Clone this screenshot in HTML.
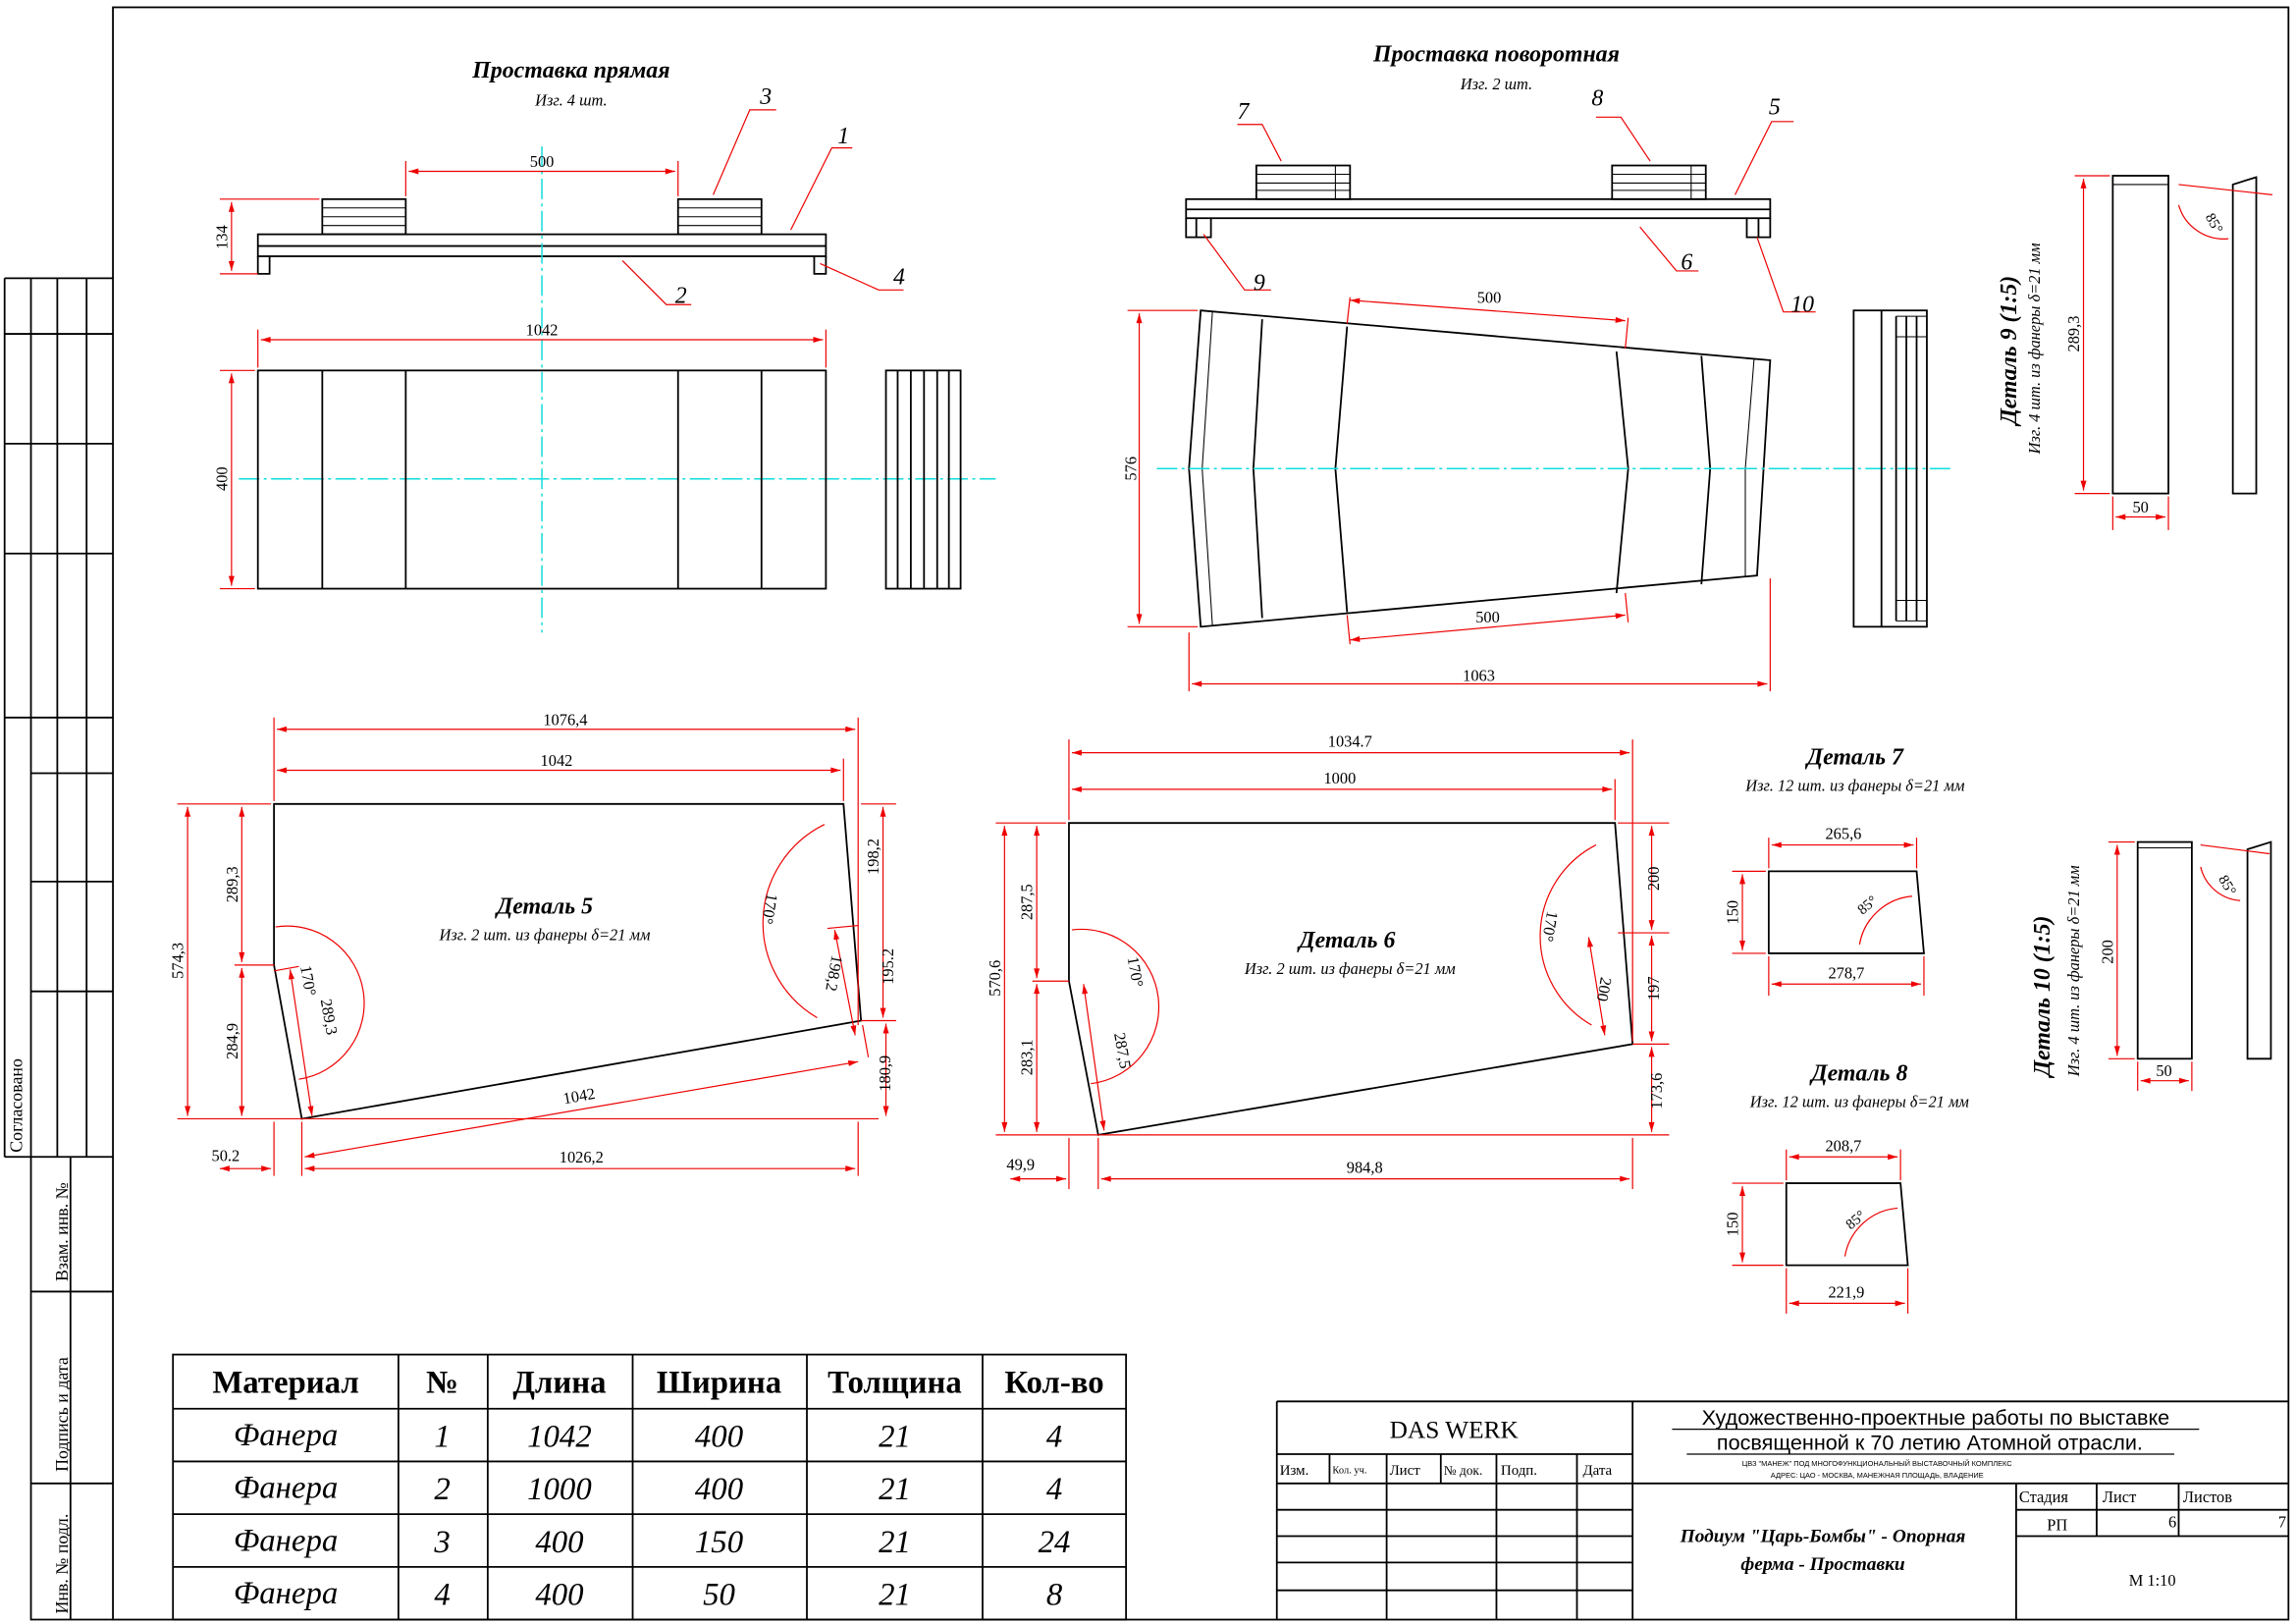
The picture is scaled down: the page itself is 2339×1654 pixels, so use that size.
<!DOCTYPE html>
<html><head><meta charset="utf-8"><style>
html,body{margin:0;padding:0;background:#fff}
svg{display:block}
text{font-family:"Liberation Serif",serif;fill:#000}
.t{font-size:11px}
.h{font-size:16px;font-weight:bold;font-style:italic}
.s{font-size:11px;font-style:italic}
.k{stroke:#000;fill:none;stroke-width:1.2}
.kt{stroke:#000;fill:none;stroke-width:0.7}
.r{stroke:#e00;fill:none;stroke-width:0.8}
.d path{stroke:#e00;fill:none;stroke-width:0.8;marker-start:url(#ms);marker-end:url(#me)}
.c{stroke:#1dd;fill:none;stroke-width:1;stroke-dasharray:14 3 2 3}
</style></head><body>
<svg width="2339" height="1654" viewBox="0 0 1568 1109" xmlns="http://www.w3.org/2000/svg">
<defs>
<marker id="me" viewBox="0 0 10 6" refX="10" refY="3" markerWidth="8" markerHeight="4" orient="auto" markerUnits="userSpaceOnUse"><path d="M10,3 L0,0 L0,6z" fill="#e00"/></marker>
<marker id="ms" viewBox="0 0 10 6" refX="0" refY="3" markerWidth="8" markerHeight="4" orient="auto" markerUnits="userSpaceOnUse"><path d="M0,3 L10,0 L10,6z" fill="#e00"/></marker>
</defs>
<!-- frame -->
<rect x="77" y="5" width="1486" height="1101" class="k"/>
<g class="k">
<path d="M3,190H77M3,190V790M21,190V790M39,190V790M59,190V790M3,228H77M3,303H77M3,378H77M3,490H77M21,528H77M21,602H77M21,677H77M3,790H77"/>
<path d="M21,790V1106H77M48,790V1106M21,882H77M21,1013H77"/>
</g>
<g class="t" font-size="11">
<text transform="translate(15,787) rotate(-90)" font-size="12">Согласовано</text>
<text transform="translate(46,875) rotate(-90)" font-size="12">Взам. инв. №</text>
<text transform="translate(46,1005) rotate(-90)" font-size="12">Подпись и дата</text>
<text transform="translate(46,1102) rotate(-90)" font-size="12">Инв. № подл.</text>
</g>
<!-- title block -->
<g class="k">
<path d="M872,957H1563M872,957V1106M1115,957V1106M872,993H1115M872,1013H1563M872,1031H1115M872,1049H1115M872,1067H1115M872,1086H1115"/>
<path d="M908,993V1013M947,993V1106M984,993V1013M1022,993V1106M1077,993V1106"/>
<path d="M1377,1013V1106M1377,1031H1563M1377,1049H1563M1432,1013V1049M1488,1013V1049"/>
<path d="M1142,976H1502M1152,993H1485" stroke-width="0.8"/>
</g>
<text x="993" y="982" font-size="17" text-anchor="middle">DAS WERK</text>
<g font-size="10"><text x="874" y="1007">Изм.</text><text x="910" y="1006" font-size="7">Кол. уч.</text><text x="949" y="1007">Лист</text><text x="986" y="1007" font-size="9">№ док.</text><text x="1025" y="1007">Подп.</text><text x="1081" y="1007">Дата</text></g>
<g text-anchor="middle">
<text x="1322" y="973" font-size="14.5" style="font-family:'Liberation Sans',sans-serif">Художественно-проектные работы по выставке</text>
<text x="1318" y="990" font-size="14.5" style="font-family:'Liberation Sans',sans-serif">посвященной к 70 летию Атомной отрасли.</text>
<text x="1282" y="1001" font-size="5" style="font-family:'Liberation Sans',sans-serif">ЦВЗ "МАНЕЖ" ПОД МНОГОФУНКЦИОНАЛЬНЫЙ ВЫСТАВОЧНЫЙ КОМПЛЕКС</text>
<text x="1282" y="1009" font-size="5" style="font-family:'Liberation Sans',sans-serif">АДРЕС: ЦАО - МОСКВА, МАНЕЖНАЯ ПЛОЩАДЬ, ВЛАДЕНИЕ</text>
</g>
<text x="1245" y="1053" font-size="13" font-weight="bold" font-style="italic" text-anchor="middle">Подиум "Царь-Бомбы" - Опорная</text>
<text x="1245" y="1072" font-size="13" font-weight="bold" font-style="italic" text-anchor="middle">ферма - Проставки</text>
<g font-size="11"><text x="1379" y="1026">Стадия</text><text x="1436" y="1026">Лист</text><text x="1491" y="1026">Листов</text><text x="1398" y="1045">РП</text><text x="1481" y="1043">6</text><text x="1556" y="1043">7</text><text x="1470" y="1083" text-anchor="middle">М 1:10</text></g>
<!-- material table -->
<g class="k"><rect x="118" y="925" width="651" height="181"/><path d="M118,962H769M118,998H769M118,1034H769M118,1070H769M272,925V1106M333,925V1106M432,925V1106M551,925V1106M671,925V1106"/></g>
<g font-size="22" font-weight="bold" text-anchor="middle"><text x="195" y="951">Материал</text><text x="302" y="951">№</text><text x="382" y="951">Длина</text><text x="491" y="951">Ширина</text><text x="611" y="951">Толщина</text><text x="720" y="951">Кол-во</text></g>
<g font-size="22" font-style="italic" text-anchor="middle">
<text x="195" y="987">Фанера</text><text x="302" y="988">1</text><text x="382" y="988">1042</text><text x="491" y="988">400</text><text x="611" y="988">21</text><text x="720" y="988">4</text>
<text x="195" y="1023">Фанера</text><text x="302" y="1024">2</text><text x="382" y="1024">1000</text><text x="491" y="1024">400</text><text x="611" y="1024">21</text><text x="720" y="1024">4</text>
<text x="195" y="1059">Фанера</text><text x="302" y="1060">3</text><text x="382" y="1060">400</text><text x="491" y="1060">150</text><text x="611" y="1060">21</text><text x="720" y="1060">24</text>
<text x="195" y="1095">Фанера</text><text x="302" y="1096">4</text><text x="382" y="1096">400</text><text x="491" y="1096">50</text><text x="611" y="1096">21</text><text x="720" y="1096">8</text>
</g>
<!-- Проставка прямая -->
<text x="390" y="53" class="h" text-anchor="middle">Проставка прямая</text>
<text x="390" y="72" class="s" text-anchor="middle">Изг. 4 шт.</text>
<g class="k"><rect x="176" y="160" width="388" height="15"/><path d="M176,168H564M176,175V187H184V175M556,175V187H564V175"/>
<rect x="220" y="136" width="57" height="24"/><rect x="463" y="136" width="57" height="24"/></g>
<g class="kt"><path d="M220,142H277M220,148H277M220,154H277M463,142H520M463,148H520M463,154H520"/></g>
<path class="c" d="M370,100V432M163,327H680"/>
<g class="r"><path d="M277,134V110M463,134V110M150,136H218M150,187H176"/><path d="M487,133L512,75H530M540,157L568,101H582M425,178L455,208H472M560,180L600,198H617"/></g>
<g class="d"><path d="M279,117H461"/><path d="M158,138V185"/><path d="M178,232H562"/><path d="M158,255V400"/></g>
<text x="370" y="114" class="t" text-anchor="middle">500</text>
<text transform="translate(155,162) rotate(-90)" class="t" text-anchor="middle">134</text>
<g font-size="16" font-style="italic"><text x="519" y="71">3</text><text x="572" y="98">1</text><text x="461" y="207">2</text><text x="610" y="194">4</text></g>
<g class="k"><rect x="176" y="253" width="388" height="149"/><path d="M220,253V402M277,253V402M463,253V402M520,253V402"/>
<rect x="605" y="253" width="51" height="149"/><path d="M613,253V402M622,253V402M631,253V402M640,253V402M648,253V402"/></g>
<g class="r"><path d="M176,251V225M564,251V225M174,253H150M174,402H150"/></g>
<text x="370" y="229" class="t" text-anchor="middle">1042</text>
<text transform="translate(155,327) rotate(-90)" class="t" text-anchor="middle">400</text>
<!-- Проставка поворотная -->
<text x="1022" y="42" class="h" text-anchor="middle">Проставка поворотная</text>
<text x="1022" y="61" class="s" text-anchor="middle">Изг. 2 шт.</text>
<g class="k"><rect x="810" y="136" width="399" height="13"/><path d="M810,143H1209M810,149V162H827V149M1193,149V162H1209V149M817,149V162M1201,149V162"/>
<rect x="858" y="113" width="64" height="23"/><rect x="1101" y="113" width="64" height="23"/></g>
<g class="kt"><path d="M858,119H922M858,125H922M858,130H922M1101,119H1165M1101,125H1165M1101,130H1165M912,113V136M1155,113V136"/></g>
<g class="r"><path d="M875,110L862,85H845M1127,110L1107,80H1090M1185,133L1210,83H1225M822,160L850,198H868M1120,155L1145,185H1160M1200,162L1218,213H1240"/></g>
<g font-size="16" font-style="italic"><text x="845" y="81">7</text><text x="1087" y="72">8</text><text x="1208" y="78">5</text><text x="856" y="198">9</text><text x="1148" y="184">6</text><text x="1223" y="213">10</text></g>
<g class="k"><path d="M820,212L1209,246L1200,393L820,428L812,320Z"/>
<path d="M862,218L856,320L862,422M920,223L912,320L920,418M1104,240L1112,320L1104,405M1162,243L1168,320L1162,399"/></g>
<g class="kt"><path d="M828,213L821,320L828,427M1198,245L1192,320L1192,394"/></g>
<path class="c" d="M790,320H1332"/>
<g class="r"><path d="M920,221L922,203M1110,238L1112,217M920,420L922,440M1110,405L1112,425M818,212H770M818,428H770M812,432V472M1209,395V472"/></g>
<g class="d"><path d="M922,205L1110,219"/><path d="M922,437L1110,420"/><path d="M814,467H1207"/><path d="M778,214V426"/></g>
<text x="1017" y="207" class="t" text-anchor="middle">500</text>
<text x="1016" y="425" class="t" text-anchor="middle">500</text>
<text x="1010" y="465" class="t" text-anchor="middle">1063</text>
<text transform="translate(776,320) rotate(-90)" class="t" text-anchor="middle">576</text>
<g class="k"><rect x="1266" y="212" width="50" height="216"/><path d="M1285,212V428M1295,216V424M1302,216V424M1309,216V424"/></g>
<g class="kt"><path d="M1295,216H1316M1295,424H1316M1295,230H1316M1295,410H1316"/></g>
<!-- Деталь 9 -->
<text transform="translate(1377,290) rotate(-90)" font-size="16" font-weight="bold" font-style="italic">Деталь 9 (1:5)</text>
<text transform="translate(1393,310) rotate(-90)" class="s">Изг. 4 шт. из фанеры δ=21 мм</text>
<g class="k"><rect x="1443" y="120" width="38" height="217"/><path d="M1525,126L1541,121V337H1525Z"/></g>
<path class="kt" d="M1443,126H1481"/>
<g class="r"><path d="M1441,120H1417M1441,337H1417M1443,339V362M1481,339V362M1488,126L1552,133M1488,140A32,32 0 0 0 1522,163"/></g>
<g class="d"><path d="M1423,122V335"/><path d="M1445,353H1479"/></g>
<text transform="translate(1420,228) rotate(-90)" class="t" text-anchor="middle">289,3</text>
<text x="1462" y="350" class="t" text-anchor="middle">50</text>
<text transform="translate(1506,148) rotate(60)" font-size="10">85°</text>
<!-- Деталь 10 -->
<text transform="translate(1400,735) rotate(-90)" font-size="16" font-weight="bold" font-style="italic">Деталь 10 (1:5)</text>
<text transform="translate(1420,735) rotate(-90)" class="s">Изг. 4 шт. из фанеры δ=21 мм</text>
<g class="k"><rect x="1460" y="575" width="37" height="148"/><path d="M1535,580L1551,575V723H1535Z"/></g>
<path class="kt" d="M1460,579H1497"/>
<g class="r"><path d="M1458,575H1440M1458,723H1440M1460,725V745M1497,725V745M1503,577L1550,583M1503,592A30,30 0 0 0 1530,615"/></g>
<g class="d"><path d="M1446,577V721"/><path d="M1462,738H1495"/></g>
<text transform="translate(1443,650) rotate(-90)" class="t" text-anchor="middle">200</text>
<text x="1478" y="735" class="t" text-anchor="middle">50</text>
<text transform="translate(1515,600) rotate(60)" font-size="10">85°</text>
<!-- Деталь 5 -->
<path class="k" stroke-width="1.6" d="M187,549H576L588,697L206,764L187,659Z"/>
<text x="372" y="624" class="h" text-anchor="middle">Деталь 5</text>
<text x="372" y="642" class="s" text-anchor="middle">Изг. 2 шт. из фанеры δ=21 мм</text>
<g class="r"><path d="M187,547V490M586,700V490M576,547V518M121,549H185M121,764H600M160,659H187M588,549H612M588,697H612M589,700L593,722M206,766V803M187,766V803M586,766V803M187,663L204,660M586,632L565,634M563,563A75,75 0 0 0 558,695M188,633A42,42 0 0 1 204,737"/></g>
<g class="d"><path d="M189,498H584"/><path d="M189,526H574"/><path d="M128,551V762"/><path d="M165,551V657"/><path d="M165,661V762"/><path d="M603,551V695"/><path d="M605,699V762"/><path d="M208,790L586,725"/><path d="M208,798H584"/><path d="M150,798H185"/><path d="M198,662L213,762"/><path d="M570,635L584,707"/></g>
<text x="386" y="495" class="t" text-anchor="middle">1076,4</text>
<text x="380" y="523" class="t" text-anchor="middle">1042</text>
<text transform="translate(125,656) rotate(-90)" class="t" text-anchor="middle">574,3</text>
<text transform="translate(162,604) rotate(-90)" class="t" text-anchor="middle">289,3</text>
<text transform="translate(162,711) rotate(-90)" class="t" text-anchor="middle">284,9</text>
<text transform="translate(600,585) rotate(-90)" class="t" text-anchor="middle">198,2</text>
<text transform="translate(610,660) rotate(-90)" class="t" text-anchor="middle">195.2</text>
<text transform="translate(608,733) rotate(-90)" class="t" text-anchor="middle">180,9</text>
<text transform="translate(396,752) rotate(-10)" class="t" text-anchor="middle">1042</text>
<text x="397" y="794" class="t" text-anchor="middle">1026,2</text>
<text x="154" y="793" class="t" text-anchor="middle">50.2</text>
<text transform="translate(221,695) rotate(80)" class="t" text-anchor="middle">289,3</text>
<text transform="translate(205,660) rotate(80)" class="t">170°</text>
<text transform="translate(522,620) rotate(100)" class="t" text-anchor="middle">170°</text>
<text transform="translate(566,664) rotate(100)" class="t" text-anchor="middle">198,2</text>
<!-- Деталь 6 -->
<path class="k" stroke-width="1.6" d="M730,562H1103L1115,713L750,775L730,670Z"/>
<text x="920" y="647" class="h" text-anchor="middle">Деталь 6</text>
<text x="922" y="665" class="s" text-anchor="middle">Изг. 2 шт. из фанеры δ=21 мм</text>
<g class="r"><path d="M730,560V505M1115,711V505M1103,560V532M680,562H728M680,775H1140M705,670H730M1105,562H1140M1105,637H1140M1115,713H1140M750,777V812M730,777V812M1115,777V812M1090,577A70,70 0 0 0 1087,700M732,635A40,40 0 0 1 745,740"/></g>
<g class="d"><path d="M732,514H1113"/><path d="M732,539H1101"/><path d="M686,564V773"/><path d="M708,564V668"/><path d="M708,672V773"/><path d="M1128,564V635"/><path d="M1128,639V711"/><path d="M1128,715V773"/><path d="M752,805H1113"/><path d="M690,805H728"/><path d="M740,672L754,772"/><path d="M1085,640L1096,707"/></g>
<text x="922" y="510" class="t" text-anchor="middle">1034.7</text>
<text x="915" y="535" class="t" text-anchor="middle">1000</text>
<text transform="translate(683,668) rotate(-90)" class="t" text-anchor="middle">570,6</text>
<text transform="translate(705,616) rotate(-90)" class="t" text-anchor="middle">287,5</text>
<text transform="translate(705,722) rotate(-90)" class="t" text-anchor="middle">283,1</text>
<text transform="translate(1133,600) rotate(-90)" class="t" text-anchor="middle">200</text>
<text transform="translate(1133,675) rotate(-90)" class="t" text-anchor="middle">197</text>
<text transform="translate(1135,745) rotate(-90)" class="t" text-anchor="middle">173,6</text>
<text x="932" y="801" class="t" text-anchor="middle">984,8</text>
<text x="697" y="799" class="t" text-anchor="middle">49,9</text>
<text transform="translate(763,718) rotate(80)" class="t" text-anchor="middle">287,5</text>
<text transform="translate(770,654) rotate(80)" class="t">170°</text>
<text transform="translate(1055,632) rotate(100)" class="t" text-anchor="middle">170°</text>
<text transform="translate(1092,675) rotate(100)" class="t" text-anchor="middle">200</text>
<!-- Деталь 7 -->
<text x="1267" y="522" class="h" text-anchor="middle">Деталь 7</text>
<text x="1267" y="540" class="s" text-anchor="middle">Изг. 12 шт. из фанеры δ=21 мм</text>
<path class="k" d="M1208,595H1309L1314,651H1208Z"/>
<g class="r"><path d="M1208,593V572M1309,593V572M1208,653V680M1314,653V680M1206,595H1183M1206,651H1183M1270,645A40,40 0 0 1 1306,612"/></g>
<g class="d"><path d="M1210,577H1307"/><path d="M1210,672H1312"/><path d="M1190,597V649"/></g>
<text x="1259" y="573" class="t" text-anchor="middle">265,6</text>
<text x="1261" y="668" class="t" text-anchor="middle">278,7</text>
<text transform="translate(1187,623) rotate(-90)" class="t" text-anchor="middle">150</text>
<text transform="translate(1272,625) rotate(-40)" font-size="10">85°</text>
<!-- Деталь 8 -->
<text x="1270" y="738" class="h" text-anchor="middle">Деталь 8</text>
<text x="1270" y="756" class="s" text-anchor="middle">Изг. 12 шт. из фанеры δ=21 мм</text>
<path class="k" d="M1220,808H1298L1303,864H1220Z"/>
<g class="r"><path d="M1220,806V785M1298,806V785M1220,866V897M1303,866V897M1218,808H1183M1218,864H1183M1260,858A40,40 0 0 1 1296,825"/></g>
<g class="d"><path d="M1222,790H1296"/><path d="M1222,890H1301"/><path d="M1190,810V862"/></g>
<text x="1259" y="786" class="t" text-anchor="middle">208,7</text>
<text x="1261" y="886" class="t" text-anchor="middle">221,9</text>
<text transform="translate(1187,836) rotate(-90)" class="t" text-anchor="middle">150</text>
<text transform="translate(1264,840) rotate(-40)" font-size="10">85°</text>
</svg>
</body></html>
